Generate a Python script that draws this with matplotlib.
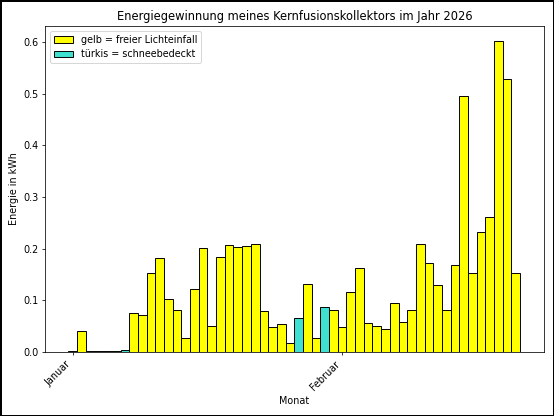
import matplotlib.pyplot as plt
from matplotlib.patches import Patch
import numpy as np

# daily values, 1 Jan .. 21 Feb 2026
energy_jan = [0.002, 0.040, 0.002, 0.001, 0.002, 0.001, 0.003, 0.076, 0.071, 0.153,
              0.181, 0.102, 0.081, 0.027, 0.122, 0.202, 0.051, 0.184, 0.207, 0.203,
              0.206, 0.210, 0.079, 0.049, 0.055, 0.018, 0.065, 0.131, 0.028, 0.088,
              0.081]
energy_feb = [0.048, 0.117, 0.163, 0.056, 0.051, 0.045, 0.095, 0.059, 0.081, 0.210,
              0.172, 0.130, 0.081, 0.169, 0.496, 0.152, 0.232, 0.261, 0.602, 0.528,
              0.152]
energy = energy_jan + energy_feb
# days with snow cover (index from 1 Jan)
snow_days = [4, 6, 26, 29]
month_ticks = [0, 31]
month_labels = ['Januar', 'Februar']

colors = ['turquoise' if i in snow_days else 'yellow' for i in range(len(energy))]

DPI = 69.25
W, H = 554, 416
fig = plt.figure(figsize=(W / DPI, H / DPI), dpi=DPI,
                 edgecolor='black', linewidth=3)
ax = fig.add_axes([45 / W, (H - 352) / H, (544 - 45) / W, (352 - 26) / H])

x = np.arange(len(energy))
ax.bar(x, energy, width=1.0, color=colors, edgecolor='black', linewidth=1)

ax.set_xlim(-3.2, len(energy) - 1 + 3.25)
ax.set_ylim(0, 0.631)
ax.set_xticks(month_ticks)
ax.set_xticklabels(month_labels, rotation=45, ha='right')
ax.set_xlabel('Monat')
ax.set_ylabel('Energie in kWh')
ax.set_title('Energiegewinnung meines Kernfusionskollektors im Jahr 2026')

handles = [Patch(facecolor='yellow', edgecolor='black', label='gelb = freier Lichteinfall'),
           Patch(facecolor='turquoise', edgecolor='black', label='türkis = schneebedeckt')]
ax.legend(handles=handles, loc='upper left')

fig.savefig('out.png', dpi=DPI, edgecolor='black')
